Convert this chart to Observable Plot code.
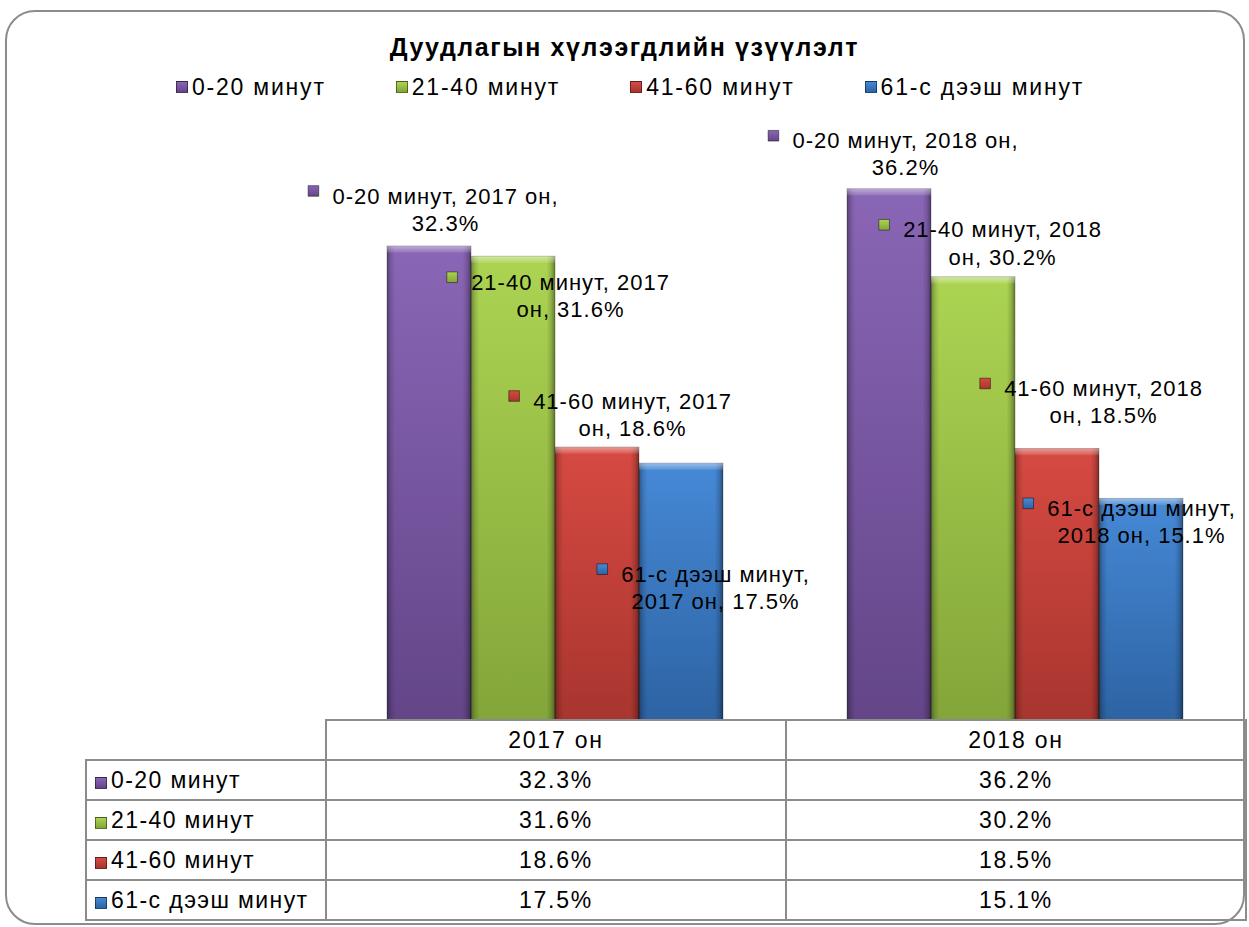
<!DOCTYPE html>
<html><head><meta charset="utf-8">
<script src="https://cdn.jsdelivr.net/npm/d3@7"></script>
<script src="https://cdn.jsdelivr.net/npm/@observablehq/plot@0.6"></script>
<style>
body{margin:0;background:#fff;font-family:"Liberation Sans",Arial,sans-serif;color:#000;}
#wrap{position:relative;width:1249px;height:927px;overflow:hidden;}
#frame{position:absolute;left:5px;top:10px;width:1236px;height:911px;border:2px solid #8c8c8c;border-radius:30px;}
#title{position:absolute;left:0;width:1249px;top:32px;text-align:center;font-weight:bold;font-size:25px;line-height:30px;letter-spacing:1.6px;}
#legend{position:absolute;left:0;width:1260px;top:73px;display:flex;justify-content:center;gap:70px;font-size:23px;line-height:28px;letter-spacing:1.8px;}
.lg{display:flex;align-items:center;}
.mk{display:inline-block;width:12px;height:12px;margin-right:4px;border:1px solid rgba(0,0,0,0.45);box-sizing:border-box;}
#chart{position:absolute;left:0;top:0;}
#tbl{position:absolute;left:85px;top:719px;border-collapse:collapse;table-layout:fixed;font-size:23px;letter-spacing:1.8px;}
#tbl td{border:2px solid #8c8c8c;height:38px;padding:0;white-space:nowrap;}
#tbl td.v{text-align:center;}
#tbl td.l{padding-left:8px;letter-spacing:1.4px;}
#tbl td.empty{border:none;}
</style></head>
<body>
<div id="wrap">
  <div id="frame"></div>
  <div id="title"></div>
  <div id="legend"></div>
  <div id="chart"></div>
  <table id="tbl"></table>
</div>
<script>
// ---- data ----
const chartTitle = "Дуудлагын хүлээгдлийн үзүүлэлт";
const years = ["2017 он", "2018 он"];
const series = ["0-20 минут", "21-40 минут", "41-60 минут", "61-с дээш минут"];
const values2017 = [32.3, 31.6, 18.6, 17.5];
const values2018 = [36.2, 30.2, 18.5, 15.1];

// ---- styles ----
const colorTop = ["#8a66b6", "#acd452", "#d64a42", "#4689d6"];
const colorBottom = ["#634588", "#83a539", "#a8352f", "#2d63a3"];
// label nudges (dx, dy) relative to the bar top, per year then series (Excel's manual label layout)
const labelNudge2017 = [[16, -38], [57, 38], [35, -34], [34, 123]];
const labelNudge2018 = [[16, -36], [29, -35], [46, -48], [0, 22]];
const FONT = 22, LH = 1.23, LS = 1;

// ---- title & legend ----
document.getElementById("title").textContent = chartTitle;
const grad = i => `linear-gradient(to bottom, ${colorTop[i]}, ${colorBottom[i]})`;
const legend = d3.select("#legend");
series.forEach((s, i) => {
  const it = legend.append("div").attr("class", "lg");
  it.append("span").attr("class", "mk").style("background", grad(i));
  it.append("span").text(s);
});

// ---- measuring for label wrap ----
const ns = "http://www.w3.org/2000/svg";
const msvg = document.createElementNS(ns, "svg");
msvg.setAttribute("style", "position:absolute;left:0;top:0;visibility:hidden");
const mt = document.createElementNS(ns, "text");
mt.setAttribute("y", 50);
mt.setAttribute("style", `font-family:'Liberation Sans',Arial,sans-serif;font-size:${FONT}px;letter-spacing:${LS}px`);
msvg.appendChild(mt); document.body.appendChild(msvg);
const measure = s => { mt.textContent = s; return mt.getComputedTextLength(); };
function wrap(str, maxW) {
  const words = str.split(" "); const lines = []; let cur = "";
  for (const w of words) {
    const t = cur ? cur + " " + w : w;
    if (cur && measure(t) > maxW) { lines.push(cur); cur = w; } else cur = t;
  }
  lines.push(cur); return lines;
}

// ---- table of records ----
const data = [];
years.forEach((y, yi) => {
  const vals = yi === 0 ? values2017 : values2018;
  const nudge = yi === 0 ? labelNudge2017 : labelNudge2018;
  series.forEach((s, si) => {
    const v = vals[si];
    const lines = wrap(`${s}, ${y}, ${v.toFixed(1)}%`, 230);
    const w1 = measure(lines[0]);
    data.push({
      year: y, series: s, value: v, label: lines.join("\n"),
      dx: nudge[si][0], dy: nudge[si][1],
      mdx: nudge[si][0] - w1 / 2 - 19,
      mdy: nudge[si][1] - (lines.length - 1) * FONT * LH / 2 - 4
    });
  });
});
msvg.remove();

const gradUrls = series.map((s, i) => `url(#g${i})`);
const marks = [
  Plot.barY(data, {fx: "year", x: "series", y: "value", fill: "series"}),
  Plot.barY(data, {fx: "year", x: "series", y: "value", fill: "url(#shadeH)", stroke: "rgba(0,0,0,0.25)", strokeWidth: 1}),
  Plot.barY(data, {fx: "year", x: "series", y1: d => d.value, y2: d => d.value - 0.45, fill: "url(#shadeT)"})
];
data.forEach(d => {
  marks.push(Plot.text([d], {fx: "year", x: "series", y: "value", text: "label", dx: d.dx, dy: d.dy,
    fontSize: FONT, lineHeight: LH, lineAnchor: "middle", textAnchor: "middle", fill: "#000"}));
  marks.push(Plot.dot([d], {fx: "year", x: "series", y: "value", dx: d.mdx, dy: d.mdy,
    symbol: "square", r: 6, fill: "series", stroke: "rgba(0,0,0,0.45)", strokeWidth: 1}));
});

const plot = Plot.plot({
  width: 1249, height: 927,
  marginTop: 133, marginBottom: 207, marginLeft: 325, marginRight: 4,
  style: {background: "transparent", fontFamily: "'Liberation Sans', Arial, sans-serif", overflow: "visible", letterSpacing: LS + "px"},
  fx: {domain: years, padding: 0, axis: null},
  x: {domain: series, paddingInner: 0, paddingOuter: 0.738, axis: null},
  y: {domain: [0, 40], axis: null},
  color: {type: "ordinal", domain: series, range: gradUrls},
  marks
});
const defs = d3.select(plot).insert("defs", ":first-child");
series.forEach((s, i) => {
  const g = defs.append("linearGradient").attr("id", "g" + i).attr("x1", 0).attr("y1", 0).attr("x2", 0).attr("y2", 1);
  g.append("stop").attr("offset", "0%").attr("stop-color", colorTop[i]);
  g.append("stop").attr("offset", "100%").attr("stop-color", colorBottom[i]);
});
const h = defs.append("linearGradient").attr("id", "shadeH").attr("x1", 0).attr("y1", 0).attr("x2", 1).attr("y2", 0);
[[0, 0.35], [0.05, 0.12], [0.1, 0], [0.9, 0], [0.95, 0.14], [1, 0.4]].forEach(([o, a]) =>
  h.append("stop").attr("offset", o).attr("stop-color", "#000").attr("stop-opacity", a));
const t = defs.append("linearGradient").attr("id", "shadeT").attr("x1", 0).attr("y1", 0).attr("x2", 0).attr("y2", 1);
t.append("stop").attr("offset", 0).attr("stop-color", "#fff").attr("stop-opacity", 0.45);
t.append("stop").attr("offset", 1).attr("stop-color", "#fff").attr("stop-opacity", 0.1);
document.getElementById("chart").appendChild(plot);

// ---- data table ----
const tbl = d3.select("#tbl");
const cg = tbl.append("colgroup");
cg.append("col").style("width", "240px");
years.forEach(() => cg.append("col").style("width", "460px"));
const hr = tbl.append("tr");
hr.append("td").attr("class", "empty");
years.forEach(y => hr.append("td").attr("class", "v").text(y));
series.forEach((s, i) => {
  const r = tbl.append("tr");
  const c = r.append("td").attr("class", "l");
  c.append("span").attr("class", "mk").style("background", grad(i)).style("vertical-align", "-1px");
  c.append("span").text(s);
  r.append("td").attr("class", "v").text(values2017[i].toFixed(1) + "%");
  r.append("td").attr("class", "v").text(values2018[i].toFixed(1) + "%");
});
</script>
</body></html>
